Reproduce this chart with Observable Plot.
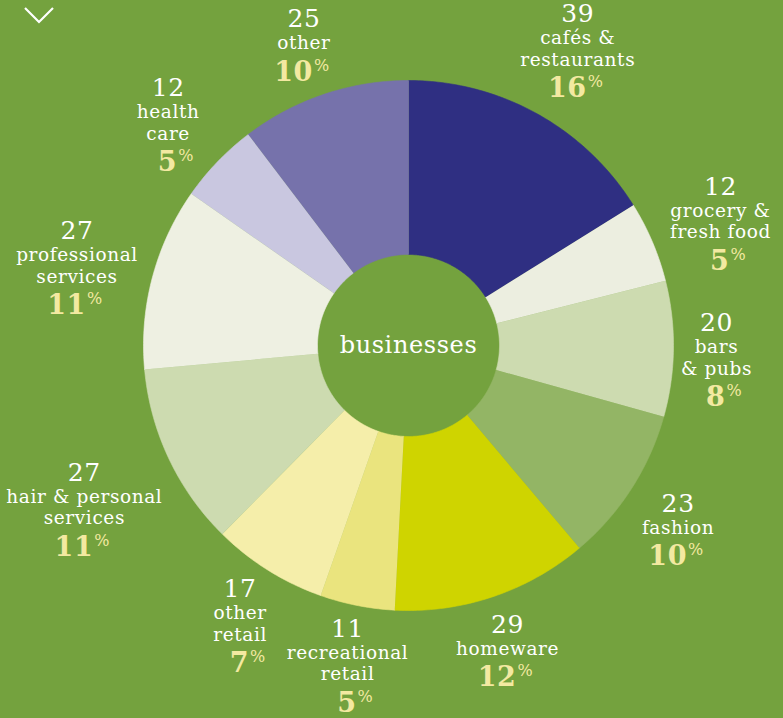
<!DOCTYPE html>
<html>
<head>
<meta charset="utf-8">
<script src="https://cdn.jsdelivr.net/npm/d3@7"></script>
<script src="https://cdn.jsdelivr.net/npm/@observablehq/plot@0.6"></script>
<style>
  html, body { margin: 0; padding: 0; background: #74a23e; }
  #wrap { position: relative; width: 783px; height: 718px; overflow: hidden; }
  #chev { position: absolute; left: 0; top: 0; }
  #chart text { letter-spacing: 0.6px; }
</style>
</head>
<body>
<div id="wrap">
  <div id="chart"></div>
  <svg id="chev" width="80" height="40"><polyline points="25,8 39,22 53,8" fill="none" stroke="#ffffff" stroke-width="2.2"/></svg>
</div>
<script>
// ---- data ----
const categories = ["cafés & restaurants", "grocery & fresh food", "bars & pubs", "fashion", "homeware", "recreational retail", "other retail", "hair & personal services", "professional services", "health care", "other"];
const labelLines = ["cafés &\nrestaurants", "grocery &\nfresh food", "bars\n& pubs", "fashion", "homeware", "recreational\nretail", "other\nretail", "hair & personal\nservices", "professional\nservices", "health\ncare", "other"];
const counts = [39, 12, 20, 23, 29, 11, 17, 27, 27, 12, 25];
const percents = [16, 5, 8, 10, 12, 5, 7, 11, 11, 5, 10];
const sliceColors = ["#2f2f82", "#eceee0", "#cddbb0", "#93b565", "#cfd400", "#eae47e", "#f5eeaa", "#cddbb0", "#eef0e2", "#c9c7e0", "#7672ab"];
const centerLabel = "businesses";

// ---- layout ----
const W = 783, H = 718;
const cx = 408, cy = 345, rOuter = 265, rInner = 91;
const labelOriginDy = 10, labelClear = 272;
const font = "'DejaVu Serif', serif";
const pctColor = "#f3e9a1";
const fsCount = 25, fsName = 18.5, lhName = 21.5, fsPct = 27, fsPctSign = 16;

const data = categories.map((c, i) => ({category: c, lines: labelLines[i], count: counts[i], pct: percents[i]}));
const arcs = d3.pie().sort(null).value(d => d.count)(data);

// polygon vertices for each annular slice
const pts = [];
for (const a of arcs) {
  const n = Math.max(8, Math.ceil((a.endAngle - a.startAngle) * 80));
  for (let i = 0; i <= n; i++) {
    const t = a.startAngle + (a.endAngle - a.startAngle) * i / n;
    pts.push({category: a.data.category, x: cx + rOuter * Math.sin(t), y: cy - rOuter * Math.cos(t)});
  }
  for (let i = n; i >= 0; i--) {
    const t = a.startAngle + (a.endAngle - a.startAngle) * i / n;
    pts.push({category: a.data.category, x: cx + rInner * Math.sin(t), y: cy - rInner * Math.cos(t)});
  }
}

// text measuring for label clearance
const ctx = document.createElement("canvas").getContext("2d");
function measure(s, size, weight) { ctx.font = `${weight || "normal"} ${size}px 'DejaVu Serif'`; return ctx.measureText(s).width + 0.6 * s.length; }

// label blocks: pushed outward along the slice's mid-angle until the block clears the pie
const labels = arcs.map(a => {
  const m = (a.startAngle + a.endAngle) / 2;
  const lines = a.data.lines.split("\n");
  const nLines = lines.length;
  const blockH = 25 + lhName * (nLines - 1) + 27.5;
  const w = Math.max(...lines.map(l => measure(l, fsName)), measure(String(a.data.count), fsCount), measure(String(a.data.pct), fsPct, "bold") * 2 + 4);
  const hw = w / 2, hh = (blockH + 20) / 2;
  const ux = Math.sin(m), uy = -Math.cos(m);
  const ox = cx, oy = cy + labelOriginDy;
  let t = 0, px = ox, py = oy;
  for (; t < 600; t += 0.5) {
    px = ox + t * ux; py = oy + t * uy;
    const dx = Math.max(0, Math.abs(px - cx) - hw), dy = Math.max(0, Math.abs(py - cy) - hh);
    if (Math.hypot(dx, dy) >= labelClear) break;
  }
  const countCenter = py - blockH / 2;
  return {
    ...a.data, x: px,
    countBase: countCenter + 9,
    nameBase: countCenter + 25 + 6 + lhName * (nLines - 1),
    pctBase: countCenter + blockH + 10
  };
});

const plot = Plot.plot({
  width: W, height: H,
  margin: 0,
  x: {domain: [0, W], range: [0, W], axis: null},
  y: {domain: [0, H], range: [0, H], axis: null},
  color: {domain: categories, range: sliceColors},
  style: {background: "transparent", overflow: "visible"},
  marks: [
    Plot.line(pts, {x: "x", y: "y", z: "category", fill: "category", stroke: "category", strokeWidth: 0.6, curve: "linear"}),
    Plot.text([centerLabel], {x: () => cx, y: () => cy, text: d => d, fill: "white", fontSize: 24, fontFamily: font}),
    Plot.text(labels, {x: "x", y: "countBase", text: d => String(d.count), fill: "white", fontSize: fsCount, fontFamily: font, lineAnchor: "bottom"}),
    Plot.text(labels, {x: "x", y: "nameBase", text: "lines", fill: "white", fontSize: fsName, lineHeight: lhName / fsName, fontFamily: font, lineAnchor: "bottom"}),
    Plot.text(labels, {x: "x", y: "pctBase", text: d => String(d.pct), fill: pctColor, fontSize: fsPct, fontWeight: "bold", fontFamily: font, lineAnchor: "bottom", textAnchor: "end", dx: 9}),
    Plot.text(labels, {x: "x", y: "pctBase", text: () => "%", fill: pctColor, fontSize: fsPctSign, fontFamily: font, lineAnchor: "bottom", textAnchor: "start", dx: 10, dy: -10})
  ]
});
document.getElementById("chart").appendChild(plot);
</script>
</body>
</html>
